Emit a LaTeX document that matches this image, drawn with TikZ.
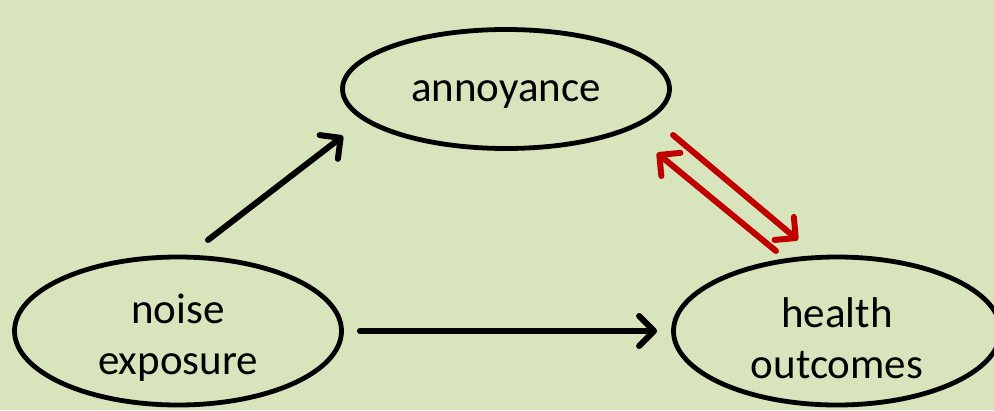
\documentclass[tikz,border=0pt]{standalone}
\usepackage{fontspec}
\setmainfont{Carlito}
\usetikzlibrary{shapes.geometric,arrows.meta,calc}
\definecolor{bgolive}{RGB}{216,228,188}
\definecolor{darkred}{RGB}{192,0,0}
\tikzset{
  oval/.style={ellipse, draw=black, line width=4.8pt, inner sep=0pt,
    minimum width=327pt},
  ovaltext/.style={font=\fontsize{43pt}{51pt}\selectfont, align=center,
    inner sep=0pt},
  arr/.style={line width=6pt, line cap=round, line join=round,
    -{Straight Barb[length=15pt,width=30pt,line cap=round,line join=round]}},
  redarr/.style={arr, draw=darkred},
}
\begin{document}
\begin{tikzpicture}[x=1pt,y=-1pt]
  % canvas
  \fill[bgolive] (0,0) rectangle (994,410);
  \useasboundingbox (0,0) rectangle (994,410);

  % factors
  \node[oval, minimum height=119pt,
    label={[ovaltext, yshift=-6pt]center:annoyance}] (ann) at (506,89) {};
  \node[oval, minimum height=148pt,
    label={[ovaltext, yshift=-7pt]center:noise\\exposure}] (noise) at (178,331) {};
  \node[oval, minimum height=148pt,
    label={[ovaltext, yshift=-7pt]center:health\\outcomes}] (health) at (837,331) {};

  % effects
  \draw[arr] ([shift={(30,-91)}]noise.center) -- ([shift={(-163,47)}]ann.center);
  \draw[arr] ([xshift=16pt]noise.east) -- ([xshift=-14pt]health.west);

  % reciprocal link
  \draw[redarr] ([shift={(167,46)}]ann.center) -- ([shift={(-39,-91)}]health.center);
  \draw[redarr] ([shift={(-61,-80)}]health.center) -- ([shift={(151,64)}]ann.center);
\end{tikzpicture}
\end{document}
